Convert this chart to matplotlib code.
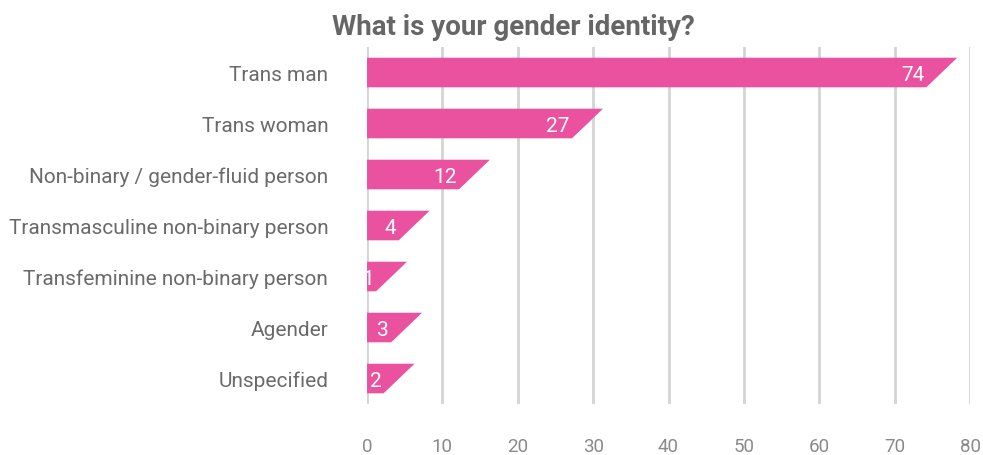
import matplotlib
matplotlib.use("Agg")
import matplotlib.pyplot as plt
from matplotlib.patches import Polygon

# data
categories = ["Trans man", "Trans woman", "Non-binary / gender-fluid person",
              "Transmasculine non-binary person", "Transfeminine non-binary person",
              "Agender", "Unspecified"]
counts = [74, 27, 12, 4, 1, 3, 2]
xticks = [0, 10, 20, 30, 40, 50, 60, 70, 80]

pink = '#EA52A0'
grey = '#666666'
plt.rcParams['font.family'] = ['Roboto', 'DejaVu Sans']

fig = plt.figure(figsize=(9.83, 4.56), dpi=100)
ax = fig.add_axes([0.3734, 0.1118, 0.6134, 0.7829])

h = 0.29  # half bar height
for i, v in enumerate(counts):
    # slanted right end: bottom corner at the value, top corner further right
    pts = [(0, i - h), (v + 4.3, i - h), (v + 0.2, i + h), (0, i + h)]
    ax.add_patch(Polygon(pts, closed=True, facecolor=pink, edgecolor='none', zorder=3))
    ax.text(v - 0.1, i + 0.03, str(v), ha='right', va='center', color='white',
            fontsize=15, zorder=4)

ax.set_xlim(0, 80)
ax.set_ylim(6.5, -0.5)
ax.set_xticks(xticks)
ax.set_xticklabels([str(t) for t in xticks])
ax.set_yticks(range(len(categories)))
ax.set_yticklabels(categories)
ax.grid(axis='x', color='#d4d4d4', linewidth=2, zorder=0)
ax.set_axisbelow(True)
for s in ax.spines.values():
    s.set_visible(False)
ax.tick_params(axis='x', length=0, pad=24, labelsize=13.5, labelcolor='#8a8a8a')
ax.tick_params(axis='y', length=0, pad=28, labelsize=15, labelcolor='#6a6a6a')

fig.text(0.522, 0.94, "What is your gender identity?", ha='center', va='center',
         fontsize=20, fontweight='bold', color=grey)

fig.savefig("out.png", dpi=100)
